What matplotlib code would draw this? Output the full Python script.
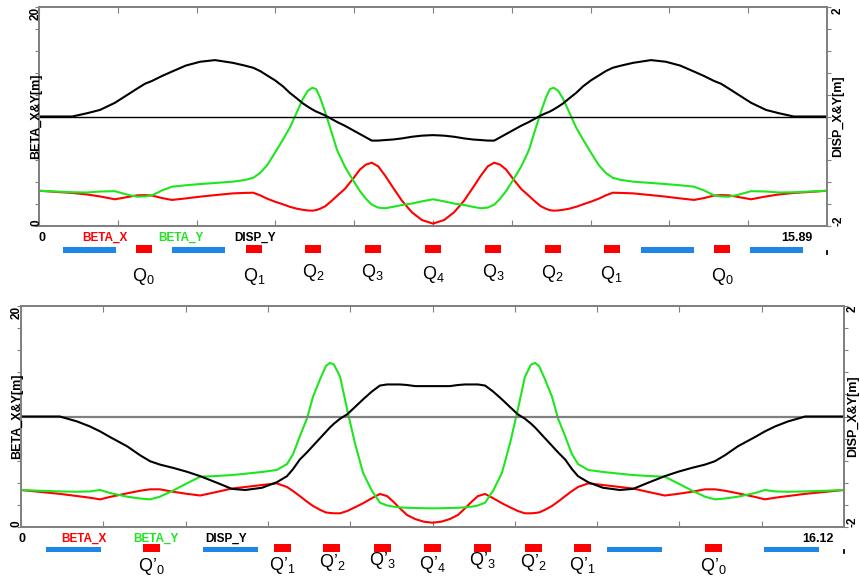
import matplotlib
matplotlib.use("Agg")
import matplotlib.pyplot as plt
from matplotlib.patches import Rectangle
from matplotlib.transforms import blended_transform_factory

plt.rcParams["font.family"] = ["Liberation Sans", "DejaVu Sans"]
plt.rcParams["mathtext.fontset"] = "custom"
plt.rcParams["mathtext.rm"] = "Liberation Sans"
plt.rcParams["mathtext.it"] = "Liberation Sans"
plt.rcParams["mathtext.bf"] = "Liberation Sans:bold"

# ------------------------------------------------------------------
# Cell A (length 15.89 m)
# ------------------------------------------------------------------
length_a = 15.89
s_a = [0.00, 0.32, 0.67, 0.97, 1.23, 1.53, 1.79, 1.98, 2.14, 2.28, 2.48, 2.68, 2.96, 3.25,
       3.55, 3.91, 4.15, 4.32, 4.46, 4.60, 4.76, 4.92, 5.06, 5.20, 5.32, 5.42, 5.51, 5.59,
       5.67, 5.77, 5.89, 6.01, 6.17, 6.33, 6.47, 6.59, 6.71, 6.84, 6.98, 7.14, 7.32, 7.52,
       7.72, 7.945, 8.17, 8.37, 8.57, 8.75, 8.91, 9.05, 9.18, 9.30, 9.42, 9.56, 9.72, 9.88,
       10.00, 10.12, 10.22, 10.30, 10.38, 10.47, 10.57, 10.69, 10.83, 10.97, 11.13, 11.29,
       11.43, 11.57, 11.74, 11.98, 12.34, 12.64, 12.93, 13.21, 13.41, 13.61, 13.75, 13.91,
       14.10, 14.36, 14.66, 14.92, 15.22, 15.57, 15.89]
betx_a = [3.22, 3.12, 3.02, 2.88, 2.70, 2.44, 2.65, 2.80, 2.82, 2.78, 2.55, 2.38, 2.52, 2.68,
          2.82, 2.98, 3.02, 3.04, 2.80, 2.50, 2.22, 1.98, 1.75, 1.58, 1.48, 1.42, 1.40, 1.45,
          1.58, 1.80, 2.25, 2.75, 3.40, 4.30, 5.15, 5.60, 5.78, 5.45, 4.60, 3.50, 2.30, 1.25,
          0.55, 0.22, 0.55, 1.25, 2.30, 3.50, 4.60, 5.45, 5.78, 5.60, 5.15, 4.30, 3.40, 2.75,
          2.25, 1.80, 1.58, 1.45, 1.40, 1.42, 1.48, 1.58, 1.75, 1.98, 2.22, 2.50, 2.80, 3.04,
          3.02, 2.98, 2.82, 2.68, 2.52, 2.38, 2.55, 2.78, 2.82, 2.80, 2.65, 2.44, 2.70, 2.88,
          3.02, 3.12, 3.22]
bety_a = [3.22, 3.15, 3.08, 3.06, 3.15, 3.18, 2.85, 2.68, 2.70, 2.80, 3.25, 3.59, 3.72, 3.83,
          3.93, 4.05, 4.20, 4.40, 4.85, 5.55, 6.70, 7.90, 9.00, 10.40, 11.60, 12.35, 12.62,
          12.50, 11.70, 10.40, 8.70, 6.94, 5.40, 4.20, 3.20, 2.50, 1.95, 1.68, 1.62, 1.75,
          1.92, 2.05, 2.25, 2.44, 2.25, 2.05, 1.92, 1.75, 1.62, 1.68, 1.95, 2.50, 3.20, 4.20,
          5.40, 6.94, 8.70, 10.40, 11.70, 12.50, 12.62, 12.35, 11.60, 10.40, 9.00, 7.90, 6.70,
          5.55, 4.85, 4.40, 4.20, 4.05, 3.93, 3.83, 3.72, 3.59, 3.25, 2.80, 2.70, 2.68, 2.85,
          3.18, 3.15, 3.06, 3.08, 3.15, 3.22]
disp_a = [0.00, 0.00, 0.00, 0.06, 0.12, 0.25, 0.40, 0.51, 0.60, 0.65, 0.74, 0.82, 0.93, 1.00,
          1.03, 0.98, 0.93, 0.89, 0.83, 0.75, 0.66, 0.55, 0.43, 0.33, 0.24, 0.18, 0.13, 0.09,
          0.06, 0.02, -0.04, -0.10, -0.17, -0.25, -0.32, -0.38, -0.44, -0.44, -0.43, -0.42,
          -0.40, -0.37, -0.35, -0.34, -0.35, -0.37, -0.40, -0.42, -0.43, -0.44, -0.44, -0.38,
          -0.32, -0.25, -0.17, -0.10, -0.04, 0.02, 0.06, 0.09, 0.13, 0.18, 0.24, 0.33, 0.43,
          0.55, 0.66, 0.75, 0.83, 0.89, 0.93, 0.98, 1.03, 1.00, 0.93, 0.82, 0.74, 0.65, 0.60,
          0.51, 0.40, 0.25, 0.12, 0.06, 0.00, 0.00, 0.00]
bends_a = [(0.48, 1.55), (2.68, 3.75), (12.14, 13.21), (14.34, 15.41)]
quads_a = [2.11, 4.34, 5.53, 6.73, 7.945, 9.16, 10.36, 11.55, 13.78]
quad_len_a = 0.32
quad_names_a = ["Q$_0$", "Q$_1$", "Q$_2$", "Q$_3$", "Q$_4$", "Q$_3$", "Q$_2$", "Q$_1$", "Q$_0$"]

# ------------------------------------------------------------------
# Cell B (length 16.12 m)
# ------------------------------------------------------------------
length_b = 16.12
s_b = [0.00, 0.37, 0.76, 1.10, 1.35, 1.55, 1.74, 2.08, 2.33, 2.53, 2.72, 2.98, 3.25, 3.51,
       3.84, 4.13, 4.39, 4.72, 5.01, 5.21, 5.33, 5.46, 5.60, 5.72, 5.86, 5.97, 6.05, 6.13,
       6.25, 6.39, 6.54, 6.70, 6.87, 7.03, 7.17, 7.29, 7.42, 7.56, 7.72, 7.89, 8.06, 8.23,
       8.40, 8.56, 8.70, 8.83, 8.95, 9.09, 9.25, 9.42, 9.58, 9.73, 9.87, 9.99, 10.07, 10.15,
       10.26, 10.40, 10.52, 10.66, 10.79, 10.91, 11.11, 11.40, 11.73, 11.99, 12.28, 12.61,
       12.87, 13.14, 13.40, 13.59, 13.79, 14.04, 14.38, 14.57, 14.77, 15.02, 15.36, 15.75,
       16.12]
betx_b = [3.35, 3.18, 3.00, 2.80, 2.65, 2.50, 2.72, 3.05, 3.28, 3.41, 3.41, 3.19, 3.00, 2.85,
          3.18, 3.48, 3.62, 3.80, 3.95, 3.62, 3.25, 2.80, 2.30, 1.90, 1.55, 1.32, 1.27, 1.24,
          1.24, 1.45, 1.78, 2.15, 2.60, 2.99, 2.80, 2.30, 1.70, 1.09, 0.72, 0.48, 0.39, 0.48,
          0.72, 1.09, 1.70, 2.30, 2.80, 2.99, 2.60, 2.15, 1.78, 1.45, 1.24, 1.24, 1.27, 1.32,
          1.55, 1.90, 2.30, 2.80, 3.25, 3.62, 3.95, 3.80, 3.62, 3.48, 3.18, 2.85, 3.00, 3.19,
          3.41, 3.41, 3.28, 3.05, 2.72, 2.50, 2.65, 2.80, 3.00, 3.18, 3.35]
bety_b = [3.35, 3.28, 3.22, 3.19, 3.22, 3.35, 3.08, 2.74, 2.58, 2.50, 2.74, 3.30, 3.95, 4.55,
          4.62, 4.70, 4.82, 4.98, 5.16, 5.70, 6.60, 8.20, 9.80, 11.80, 13.40, 14.55, 14.85,
          14.70, 13.60, 10.60, 7.60, 4.90, 3.30, 2.20, 1.95, 1.84, 1.78, 1.74, 1.72, 1.70,
          1.69, 1.70, 1.72, 1.74, 1.78, 1.84, 1.95, 2.20, 3.30, 4.90, 7.60, 10.60, 13.60,
          14.70, 14.85, 14.55, 13.40, 11.80, 9.80, 8.20, 6.60, 5.70, 5.16, 4.98, 4.82, 4.70,
          4.62, 4.55, 3.95, 3.30, 2.74, 2.50, 2.58, 2.74, 3.08, 3.35, 3.22, 3.19, 3.22, 3.28,
          3.35]
disp_b = [0.00, 0.00, 0.00, -0.09, -0.18, -0.27, -0.37, -0.54, -0.70, -0.81, -0.87, -0.93,
          -1.00, -1.08, -1.20, -1.31, -1.33, -1.29, -1.19, -1.08, -0.95, -0.78, -0.65, -0.53,
          -0.39, -0.28, -0.20, -0.13, -0.04, 0.04, 0.17, 0.31, 0.45, 0.56, 0.58, 0.58, 0.58,
          0.57, 0.55, 0.55, 0.55, 0.55, 0.55, 0.57, 0.58, 0.58, 0.58, 0.56, 0.45, 0.31, 0.17,
          0.04, -0.04, -0.13, -0.20, -0.28, -0.39, -0.53, -0.65, -0.78, -0.95, -1.08, -1.19,
          -1.29, -1.33, -1.31, -1.20, -1.08, -1.00, -0.93, -0.87, -0.81, -0.70, -0.54, -0.37,
          -0.27, -0.18, -0.09, 0.00, 0.00, 0.00]
bends_b = [(0.49, 1.57), (3.57, 4.64), (11.48, 12.55), (14.55, 15.63)]
quads_b = [2.56, 5.12, 6.09, 7.08, 8.06, 9.04, 10.03, 11.00, 13.56]
quad_len_b = 0.33
quad_names_b = ["Q\u2019$_0$", "Q\u2019$_1$", "Q\u2019$_2$", "Q\u2019$_3$", "Q\u2019$_4$",
                "Q\u2019$_3$", "Q\u2019$_2$", "Q\u2019$_1$", "Q\u2019$_0$"]

legend_names = ["BETA_X", "BETA_Y", "DISP_Y"]

# ------------------------------------------------------------------
W, H = 860, 583
RED, GREEN, BLUE, GREY = "#ff0000", "#1ee61e", "#1e86e6", "#808080"
LW = 1.5

fig = plt.figure(figsize=(W / 100, H / 100), dpi=100)
fig.patch.set_facecolor("white")


def fx(px):
    return px / W


def fy(py):
    return 1 - py / H


def draw_cell(box, length, s, betx, bety, disp, bends, quads, qlen, qnames,
              zero_color, zero_lw, geo):
    left, top, right, bottom = box
    ax = fig.add_axes([fx(left), fy(bottom), fx(right - left), (bottom - top) / H])
    ax.plot(s, betx, color=RED, lw=LW, solid_joinstyle="round")
    ax.plot(s, bety, color=GREEN, lw=LW, solid_joinstyle="round")
    ax.set_xlim(0, length)
    ax.set_ylim(0, 20)

    ax2 = ax.twinx()
    ax2.axhline(0, color=zero_color, lw=zero_lw)
    ax2.plot(s, disp, color="black", lw=LW, solid_joinstyle="round")
    ax2.set_ylim(-2, 2)

    ax.set_xticks([length * k / 10 for k in range(11)])
    ax.set_yticks(range(0, 21, 2))
    ax2.set_yticks([-2 + 0.4 * k for k in range(11)])
    ax.tick_params(axis="x", direction="in", top=True, bottom=True, length=4,
                   color=GREY, labelbottom=False)
    ax.tick_params(axis="y", direction="out", length=3, color=GREY, labelleft=False)
    ax2.tick_params(axis="y", direction="out", length=3, color=GREY, labelright=False)
    for a in (ax, ax2):
        for sp in a.spines.values():
            sp.set_color(GREY)
            sp.set_linewidth(1.3)

    # axis annotations
    lx, rx = geo["lx"], geo["rx"]
    fig.text(fx(lx), fy(top), "20", rotation=90, ha="center", va="top",
             fontsize=8.5, fontweight="bold")
    fig.text(fx(lx), fy(bottom), "0", rotation=90, ha="center", va="bottom",
             fontsize=8.5, fontweight="bold")
    fig.text(fx(lx), fy((top + bottom) / 2), "BETA_X&Y[m]", rotation=90,
             ha="center", va="center", fontsize=9, fontweight="bold")
    fig.text(fx(rx), fy(top), "2", rotation=90, ha="center", va="top",
             fontsize=8.5, fontweight="bold")
    fig.text(fx(rx), fy(bottom), "-2", rotation=90, ha="center", va="bottom",
             fontsize=8.5, fontweight="bold")
    fig.text(fx(rx), fy((top + bottom) / 2), "DISP_X&Y[m]", rotation=90,
             ha="center", va="center", fontsize=9, fontweight="bold")

    ty = geo["text_y"]
    fig.text(fx(geo["zero_x"]), fy(ty), "0", ha="center", va="center",
             fontsize=9, fontweight="bold")
    fig.text(fx(geo["end_x"]), fy(ty), f"{length:.2f}", ha="center", va="center",
             fontsize=9, fontweight="bold")
    for name, colour, x in zip(legend_names, [RED, GREEN, "black"], geo["legend_x"]):
        fig.text(fx(x), fy(ty), name, color=colour, ha="center", va="center",
                 fontsize=8.5, fontweight="bold")

    # lattice elements below the frame
    tr = blended_transform_factory(ax.transData, fig.transFigure)
    b_top, b_bot = geo["bend_y"]
    q_top, q_bot = geo["quad_y"]
    for s0, s1 in bends:
        fig.add_artist(Rectangle((s0, fy(b_bot)), s1 - s0, (b_bot - b_top) / H,
                                 transform=tr, color=BLUE, lw=0, clip_on=False))
    for sc, name, yb in zip(quads, qnames, geo["label_y"]):
        fig.add_artist(Rectangle((sc - qlen / 2, fy(q_bot)), qlen, (q_bot - q_top) / H,
                                 transform=tr, color=RED, lw=0, clip_on=False))
        fig.text(sc, fy(yb), name, transform=tr, ha="center", va="baseline",
                 fontsize=13)
    end_mark = plt.Line2D([length, length], [fy(b_bot + 1), fy(b_bot - 2)],
                          transform=tr, color="black", lw=1.3)
    fig.add_artist(end_mark)
    return ax, ax2


draw_cell((39, 7, 827, 226), length_a, s_a, betx_a, bety_a, disp_a, bends_a, quads_a,
          quad_len_a, quad_names_a, "black", 1.0,
          dict(lx=36, rx=838, text_y=238, zero_x=42, end_x=797,
               legend_x=[105, 181, 255], bend_y=(247, 253), quad_y=(245, 253),
               label_y=[281, 281, 277, 277, 279, 277, 278, 279, 281]))

draw_cell((21, 306, 844, 527), length_b, s_b, betx_b, bety_b, disp_b, bends_b, quads_b,
          quad_len_b, quad_names_b, GREY, 1.6,
          dict(lx=17, rx=853, text_y=539, zero_x=22, end_x=818,
               legend_x=[84, 156, 226], bend_y=(547, 552), quad_y=(544, 552),
               label_y=[571, 570, 567, 565, 569, 565, 567, 570, 571]))

fig.savefig("out.png", dpi=100)
